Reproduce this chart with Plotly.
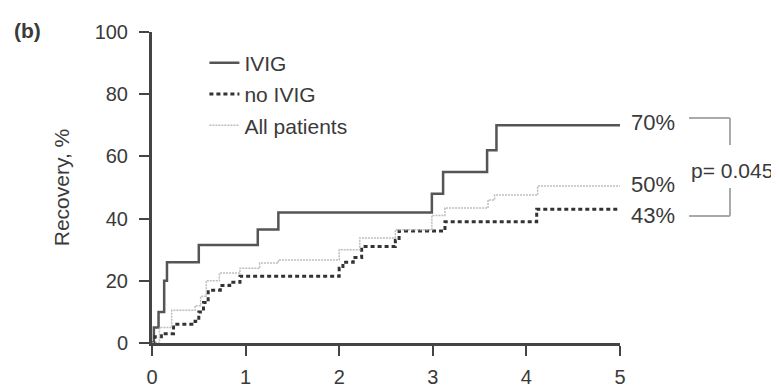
import plotly.graph_objects as go

# Kaplan-Meier style recovery curves (time in x, recovery % in y)
ivig_t = [0, 0.02, 0.07, 0.13, 0.16, 0.5, 1.13, 1.35, 2.99, 3.11, 3.58, 3.68, 5.0]
ivig_v = [0, 5, 10, 20, 26, 31.5, 36.5, 42, 48, 55, 62, 70, 70]

noivig_t = [0, 0.03, 0.1, 0.23, 0.46, 0.5, 0.55, 0.6, 0.73, 0.83, 0.94, 2.0, 2.04, 2.15, 2.24, 2.6, 2.64, 3.13, 4.11, 5.0]
noivig_v = [0, 2, 3, 6, 7, 10, 13, 17, 18.5, 19.5, 21.5, 24, 26, 27.5, 31, 33, 36, 39, 43, 43]

all_t = [0, 0.08, 0.21, 0.46, 0.52, 0.58, 0.72, 0.94, 1.15, 1.35, 2.0, 2.22, 2.6, 2.99, 3.13, 3.59, 3.66, 4.12, 5.0]
all_v = [0, 5, 10.5, 12, 15, 20, 22.5, 24, 25.7, 26.7, 30, 33.8, 36.4, 41, 43.4, 46, 47.6, 50.5, 50.5]

series_names = ["IVIG", "no IVIG", "All patients"]
end_labels = ["70%", "50%", "43%"]
end_values = [70, 50, 43]
p_text = "p= 0.045"

x_ticks = [0, 1, 2, 3, 4, 5]
y_ticks = [0, 20, 40, 60, 80, 100]

FONT = "Liberation Sans, Arial, sans-serif"
TXT = "#3a3a3a"

fig = go.Figure()
fig.add_trace(go.Scatter(x=ivig_t, y=ivig_v, mode="lines", name=series_names[0],
                         line=dict(color="#555555", width=2.5, shape="hv"),
                         legendgroup="a"))
fig.add_trace(go.Scatter(x=noivig_t, y=noivig_v, mode="lines", name=series_names[1],
                         line=dict(color="#333333", width=3, shape="hv", dash="4px,3px"),
                         legendgroup="b"))
fig.add_trace(go.Scatter(x=all_t, y=all_v, mode="lines", name=series_names[2],
                         line=dict(color="#bdbdbd", width=1.5, shape="hv", dash="2px,1px"),
                         legendgroup="c"))

axis_common = dict(showline=True, linecolor="#444444", linewidth=3, ticks="outside",
                   tickcolor="#444444", tickwidth=2, ticklen=10, showgrid=False,
                   zeroline=False, automargin=False,
                   tickfont=dict(family=FONT, size=20, color=TXT))

fig.update_xaxes(range=[0, 5], tickvals=x_ticks, ticklabelstandoff=4, **axis_common)
fig.update_yaxes(range=[0, 100], tickvals=y_ticks, ticklabelstandoff=7,
                 title=dict(text="Recovery, %", font=dict(family=FONT, size=21, color=TXT), standoff=20),
                 **axis_common)

# end labels
label_shift = {70: 3, 50: 3, 43: -6}
for lab, v in zip(end_labels, end_values):
    fig.add_annotation(x=5, y=v, xref="x", yref="y", text=lab, showarrow=False,
                       xanchor="left", xshift=9, yshift=label_shift[v],
                       font=dict(family=FONT, size=22, color=TXT))

# page body has an 8px margin: figure sized to the visible 771x384 area
W, H = 771, 384
L, T = 144, 24
PW, PH = 468, 311


def px(xp):
    return (xp - 8 - L) / PW


def py(yp):
    return (T + PH - (yp - 8)) / PH


bx0, bx1 = px(689), px(730)
ytop, ybot = py(118), py(216)
gcol = "#aaaaaa"
fig.add_shape(type="line", xref="paper", yref="paper", x0=bx0, x1=bx1, y0=ytop, y1=ytop, line=dict(color=gcol, width=2))
fig.add_shape(type="line", xref="paper", yref="paper", x0=bx0, x1=bx1, y0=ybot, y1=ybot, line=dict(color=gcol, width=2))
fig.add_shape(type="line", xref="paper", yref="paper", x0=bx1, x1=bx1, y0=ytop, y1=py(145), line=dict(color=gcol, width=2))
fig.add_shape(type="line", xref="paper", yref="paper", x0=bx1, x1=bx1, y0=py(188), y1=ybot, line=dict(color=gcol, width=2))
fig.add_annotation(x=px(732), y=py(170), xref="paper", yref="paper", text=p_text,
                   showarrow=False, xanchor="center", yanchor="middle",
                   font=dict(family=FONT, size=21, color=TXT))

fig.add_annotation(x=px(27), y=py(30), xref="paper", yref="paper", text="<b>(b)</b>",
                   showarrow=False, xanchor="center", yanchor="middle",
                   font=dict(family=FONT, size=21, color=TXT))

fig.update_layout(
    width=W, height=H,
    margin=dict(l=L, r=W - L - PW, t=T, b=H - T - PH, autoexpand=False),
    plot_bgcolor="white", paper_bgcolor="white",
    showlegend=True,
    legend=dict(x=0.112, y=0.966, xanchor="left", yanchor="top", bgcolor="rgba(0,0,0,0)",
                font=dict(family=FONT, size=21, color=TXT), traceorder="grouped",
                tracegroupgap=1, itemwidth=30),
)

fig.write_html("out.html")
